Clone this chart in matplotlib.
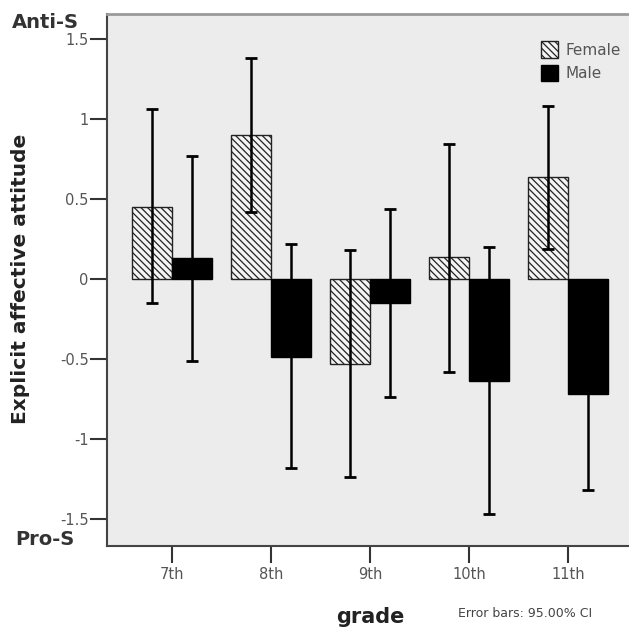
import matplotlib
matplotlib.use("Agg")
import matplotlib.pyplot as plt
import numpy as np
from matplotlib.patches import Patch

plt.rcParams['font.family'] = ['DejaVu Sans']
plt.rcParams['hatch.linewidth'] = 0.9

grades = ["7th", "8th", "9th", "10th", "11th"]
female_mean = [0.45, 0.90, -0.53, 0.14, 0.64]
female_lo = [-0.15, 0.42, -1.24, -0.58, 0.19]
female_hi = [1.06, 1.38, 0.18, 0.84, 1.08]
male_mean = [0.13, -0.49, -0.15, -0.64, -0.72]
male_lo = [-0.51, -1.18, -0.74, -1.47, -1.32]
male_hi = [0.77, 0.22, 0.44, 0.20, -0.12]
yticks = [-1.5, -1, -0.5, 0, 0.5, 1, 1.5]
ytick_labels = ["-1.5", "-1", "-0.5", "0", "0.5", "1", "1.5"]

fig = plt.figure(figsize=(6.29, 6.32), dpi=100)
ax = fig.add_axes([0.170, 0.136, 0.830, 0.842])
ax.set_facecolor('#ececec')

x = np.arange(len(grades))
w = 0.4
ax.bar(x - w/2, female_mean, w, facecolor='#f4f4f4', edgecolor='#222222',
       hatch='\\\\\\\\\\', linewidth=1.0, zorder=2)
ax.bar(x + w/2, male_mean, w, facecolor='black', edgecolor='black',
       linewidth=1.0, zorder=2)

fm = np.array(female_mean); mm = np.array(male_mean)
ax.errorbar(x - w/2, fm, yerr=[fm - np.array(female_lo), np.array(female_hi) - fm],
            fmt='none', ecolor='black', elinewidth=1.8, capsize=4, capthick=2, zorder=3)
ax.errorbar(x + w/2, mm, yerr=[mm - np.array(male_lo), np.array(male_hi) - mm],
            fmt='none', ecolor='black', elinewidth=1.8, capsize=4, capthick=2, zorder=3)

ax.set_xlim(-0.657, 4.616)
ax.set_ylim(-1.669, 1.656)
ax.set_xticks(x)
ax.set_xticklabels(grades, color='#555555', fontsize=10.5)
ax.set_yticks(yticks)
ax.set_yticklabels(ytick_labels, color='#555555', fontsize=10.5)
ax.tick_params(axis='y', length=12, width=1.5, color='#333333', pad=1)
ax.tick_params(axis='x', length=12, width=1.5, color='#333333', pad=3)

for s in ['left', 'bottom']:
    ax.spines[s].set_color('#444444')
    ax.spines[s].set_linewidth(1.5)
ax.spines['top'].set_color('#9a9a9a')
ax.spines['top'].set_linewidth(2)
ax.spines['right'].set_visible(False)

ax.set_ylabel("Explicit affective attitude", fontsize=14.5, fontweight='bold',
              color='#222222')
ax.yaxis.set_label_coords(-0.148, 0.502)
ax.set_xlabel("grade", fontsize=15, fontweight='bold', color='#222222')
ax.xaxis.set_label_coords(0.505, -0.115)

fig.text(0.728, 0.024, "Error bars: 95.00% CI", fontsize=9, color='#444444')
fig.text(0.019, 0.965, "Anti-S", fontsize=14, fontweight='bold', color='#333333', va='center')
fig.text(0.024, 0.146, "Pro-S", fontsize=14, fontweight='bold', color='#333333', va='center')

handles = [Patch(facecolor='#f4f4f4', edgecolor='#222222', hatch='\\\\\\\\\\', label='Female'),
           Patch(facecolor='black', edgecolor='black', label='Male')]
leg = ax.legend(handles=handles, loc='upper left', bbox_to_anchor=(0.82, 0.96),
                frameon=False, fontsize=11, handlelength=1.1, handleheight=1.3,
                handletextpad=0.5, labelspacing=0.45, borderaxespad=0)
for t in leg.get_texts():
    t.set_color('#555555')

fig.savefig("out.png", dpi=100)
